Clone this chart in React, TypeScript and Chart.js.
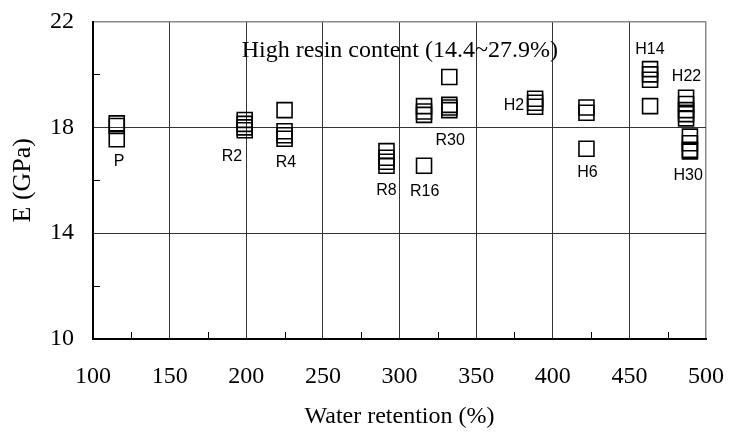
import React, { useEffect, useRef } from 'react';
import { Chart, registerables } from 'chart.js';

Chart.register(...registerables);

// Sample groups and their water retention (%)
const groups = ['P', 'R2', 'R4', 'R8', 'R16', 'R30', 'H2', 'H6', 'H14', 'H22', 'H30'];
const waterRetention = [115.5, 199, 225, 291.5, 316, 332.5, 388.5, 422, 463.5, 487, 489.5];

// Young's modulus E (GPa) for each specimen of a group
const modulusP = [18.15, 18.05, 17.55];
const modulusR2 = [18.28, 18.13, 18.0, 17.89];
const modulusR4 = [18.65, 17.85, 17.7, 17.57];
const modulusR8 = [17.1, 16.85, 16.7, 16.55];
const modulusR16 = [18.8, 18.6, 18.47, 16.55];
const modulusR30 = [19.9, 18.85, 18.75, 18.65];
const modulusH2 = [19.08, 18.93, 18.78];
const modulusH6 = [18.75, 18.55, 17.19];
const modulusH14 = [20.2, 20.0, 19.8, 18.8];
const modulusH22 = [19.12, 18.88, 18.65, 18.5, 18.34];
const modulusH30 = [17.65, 17.4, 17.15, 17.09];
const modulusByGroup = [
  modulusP, modulusR2, modulusR4, modulusR8, modulusR16, modulusR30,
  modulusH2, modulusH6, modulusH14, modulusH22, modulusH30,
];

// Group label anchors (data units)
const labelAnchorX = [117.1, 190.7, 225.9, 291.5, 316.4, 333.1, 374.7, 422.7, 463.4, 487.3, 488.4];
const labelAnchorY = [16.69, 16.9, 16.68, 15.61, 15.59, 17.49, 18.81, 16.28, 20.94, 19.9, 16.18];

// Axes
const xMin = 100;
const xMax = 500;
const xStep = 50;
const yMin = 10;
const yMax = 22;
const yStep = 2;
const yLabelStep = 4;
const xMinorTicks = [125, 175, 225, 275, 325, 375, 425, 475];
const yMinorTicks = [12, 16, 20];

const xTitle = 'Water retention (%)';
const yTitle = 'E (GPa)';
const noteText = 'High resin content (14.4~27.9%)';
const noteX = 197;
const noteY = 20.67;

const SERIF = '"Liberation Serif", "Times New Roman", serif';
const SANS = '"Liberation Sans", Arial, sans-serif';

const isMajorY = (v: number) => Math.abs((v - yMin) % yLabelStep) < 1e-9;

const overlayPlugin = {
  id: 'overlay',
  afterDatasetsDraw(chart: any) {
    const { ctx, chartArea } = chart;
    const xs = chart.scales.x;
    const ys = chart.scales.y;
    ctx.save();
    ctx.strokeStyle = '#000';
    ctx.lineWidth = 1;
    xMinorTicks.forEach((v) => {
      const px = Math.round(xs.getPixelForValue(v)) + 0.5;
      ctx.beginPath();
      ctx.moveTo(px, chartArea.bottom);
      ctx.lineTo(px, chartArea.bottom - 7);
      ctx.stroke();
    });
    yMinorTicks.forEach((v) => {
      const py = Math.round(ys.getPixelForValue(v)) + 0.5;
      ctx.beginPath();
      ctx.moveTo(chartArea.left, py);
      ctx.lineTo(chartArea.left + 7, py);
      ctx.stroke();
    });

    ctx.fillStyle = '#000';
    ctx.font = '16px ' + SANS;
    ctx.textAlign = 'center';
    ctx.textBaseline = 'middle';
    groups.forEach((g, i) => {
      ctx.fillText(g, xs.getPixelForValue(labelAnchorX[i]), ys.getPixelForValue(labelAnchorY[i]));
    });

    ctx.font = '24px ' + SERIF;
    ctx.textAlign = 'left';
    ctx.textBaseline = 'alphabetic';
    ctx.fillText(noteText, xs.getPixelForValue(noteX), ys.getPixelForValue(noteY));
    ctx.restore();
  },
};

export default function App() {
  const canvasRef = useRef<HTMLCanvasElement | null>(null);

  useEffect(() => {
    document.body.style.margin = '0';
    const canvas = canvasRef.current;
    if (!canvas) return;

    const datasets = groups.map((g, i) => ({
      label: g,
      data: modulusByGroup[i].map((e) => ({ x: waterRetention[i], y: e })),
      pointStyle: 'rect',
      pointRadius: 10.6,
      pointHoverRadius: 10.6,
      borderColor: '#000',
      backgroundColor: 'rgba(0,0,0,0)',
      borderWidth: 1.6,
      showLine: false,
    }));

    const chart = new Chart(canvas, {
      type: 'scatter',
      data: { datasets },
      options: {
        animation: false,
        responsive: false,
        events: [],
        layout: { padding: 0 },
        plugins: {
          legend: { display: false },
          tooltip: { enabled: false },
        },
        scales: {
          x: {
            type: 'linear',
            min: xMin,
            max: xMax,
            afterFit: (s: any) => {
              s.height = 100;
              s.paddingLeft = 0;
              s.paddingRight = 23;
            },
            ticks: {
              stepSize: xStep,
              padding: 23,
              color: '#000',
              maxRotation: 0,
              font: { family: SERIF, size: 24 },
            },
            grid: {
              drawTicks: false,
              color: (c: any) => {
                const v = c.tick && c.tick.value;
                if (v === xMin) return 'rgba(0,0,0,0)';
                if (v === xMax) return '#8a8a8a';
                return '#333';
              },
              lineWidth: (c: any) => (c.tick && c.tick.value === xMax ? 1.5 : 1),
            },
            border: { color: '#000', width: 2 },
            title: {
              display: true,
              text: xTitle,
              color: '#000',
              font: { family: SERIF, size: 24 },
              padding: { top: 0, bottom: 8 },
            },
          },
          y: {
            type: 'linear',
            min: yMin,
            max: yMax,
            afterFit: (s: any) => {
              s.width = 93;
              s.paddingTop = 21.5;
              s.paddingBottom = 0;
            },
            ticks: {
              stepSize: yStep,
              padding: 19,
              color: '#000',
              font: { family: SERIF, size: 24 },
              callback: (v: any) => (isMajorY(Number(v)) ? String(v) : ''),
            },
            grid: {
              drawTicks: false,
              color: (c: any) => {
                const v = c.tick && c.tick.value;
                if (v === yMax) return '#8a8a8a';
                if (v === yMin || !isMajorY(v)) return 'rgba(0,0,0,0)';
                return '#333';
              },
              lineWidth: (c: any) => (c.tick && c.tick.value === yMax ? 1.5 : 1),
            },
            border: { color: '#000', width: 2 },
            title: {
              display: true,
              text: yTitle,
              color: '#000',
              font: { family: SERIF, size: 26 },
              padding: { top: 8, bottom: 0 },
            },
          },
        },
      },
      plugins: [overlayPlugin],
    } as any);

    return () => chart.destroy();
  }, []);

  return (
    <div style={{ width: 729, height: 439 }}>
      <canvas ref={canvasRef} width={729} height={439} style={{ display: 'block' }} />
    </div>
  );
}
